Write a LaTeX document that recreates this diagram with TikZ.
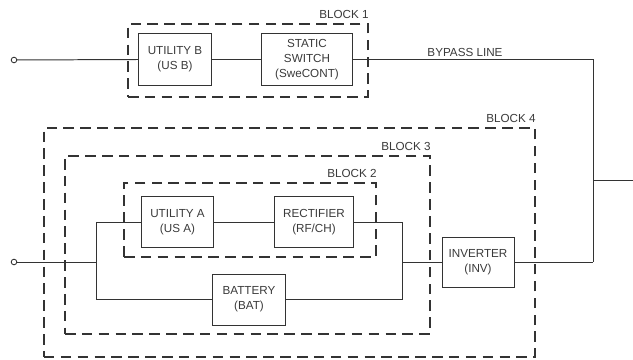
\documentclass[tikz,border=0pt]{standalone}
\usepackage{fontspec}
\setmainfont{Liberation Sans}
\usepackage{xcolor}
\usepackage{tikz}
\usetikzlibrary{positioning,calc}
\definecolor{LineGray}{HTML}{333333}
\definecolor{TextGray}{HTML}{3A3A3A}

\begin{document}
\begin{tikzpicture}[
  x=0.025cm, y=-0.025cm,
  unit/.style={
    draw=LineGray, line width=0.7pt, align=center, inner sep=1pt,
    font=\fontsize{8.3}{10.6}\selectfont, text=TextGray,
    minimum width=1.8cm, minimum height=1.275cm
  },
  blockbox/.style={
    draw=LineGray, line width=1.2pt, dash pattern=on 7.5pt off 4.5pt
  },
  blocklabel/.style={
    font=\fontsize{8.3}{10}\selectfont, text=TextGray,
    anchor=south east, inner sep=0pt, yshift=3.2pt
  },
  wire/.style={draw=LineGray, line width=0.7pt},
  terminal/.style={draw=LineGray, line width=0.6pt, fill=white, circle,
    inner sep=0pt, minimum size=0.14cm},
]
\useasboundingbox (0,0) rectangle (633,360);

% ---------- Units ----------
\node[unit] (usb) at (175,59.5) {UTILITY B\\(US B)};
\node[unit, minimum width=2.25cm] (sw) at (307,59.5) {STATIC\\SWITCH\\(SweCONT)};
\node[unit, minimum height=1.25cm] (usa) at (177.5,222) {UTILITY A\\(US A)};
\node[unit, minimum width=1.95cm, minimum height=1.25cm] (rf) at (314,222) {RECTIFIER\\(RF/CH)};
\node[unit] (bat) at (249,299.5) {BATTERY\\(BAT)};
\node[unit, minimum height=1.25cm] (inv) at (478,262.5) {INVERTER\\(INV)};

% ---------- Blocks (dashed boundaries) ----------
\node[blockbox, minimum width=6cm, minimum height=1.825cm] (blk1) at (248,60.5) {};
\node[blockbox, minimum width=6.3cm, minimum height=1.85cm] (blk2) at (250,220) {};
\node[blockbox, minimum width=9.125cm, minimum height=4.45cm] (blk3) at (247.5,245) {};
\node[blockbox, minimum width=12.275cm, minimum height=5.725cm] (blk4) at (289.5,242.5) {};
\node[blocklabel] (lbl1) at (blk1.north east) {BLOCK 1};
\node[blocklabel] (lbl2) at (blk2.north east) {BLOCK 2};
\node[blocklabel] (lbl3) at (blk3.north east) {BLOCK 3};
\node[blocklabel] (lbl4) at (blk4.north east) {BLOCK 4};

% ---------- Terminals and junctions ----------
\node[terminal] (in_b) at (14,60) {};
\node[terminal] (in_a) at (14,262) {};
\coordinate (j_in)  at (96,262);
\coordinate (j_top) at (96,222);
\coordinate (j_bot) at (96,299.5);
\coordinate (m_top) at (402,222);
\coordinate (m_bot) at (402,299.5);
\coordinate (m_inv) at (402,262.5);
\coordinate (byp_top) at (593,59.5);
\coordinate (byp_bot) at (593,262.5);
\coordinate (out_j) at (593,180);
\coordinate (out) at (633,180);

% ---------- Wiring ----------
\draw[wire] (in_b) -- (usb.west);
\draw[wire] (usb) -- (sw);
\draw[wire] (sw.east) -- (byp_top) -- (byp_bot);
\node[font=\fontsize{8.3}{10}\selectfont, text=TextGray, anchor=south, inner sep=1.5pt]
  (bypass) at (465,59.5) {BYPASS LINE};
\draw[wire] (out_j) -- (out);

\draw[wire] (in_a) -- (j_in);
\draw[wire] (j_top) -- (j_bot);
\draw[wire] (j_top) -- (usa.west);
\draw[wire] (usa) -- (rf);
\draw[wire] (j_bot) -- (bat.west);
\draw[wire] (rf.east) -- (m_top) -- (m_bot) -- (bat.east);
\draw[wire] (m_inv) -- (inv.west);
\draw[wire] (inv.east) -- (byp_bot);

\end{tikzpicture}
\end{document}
